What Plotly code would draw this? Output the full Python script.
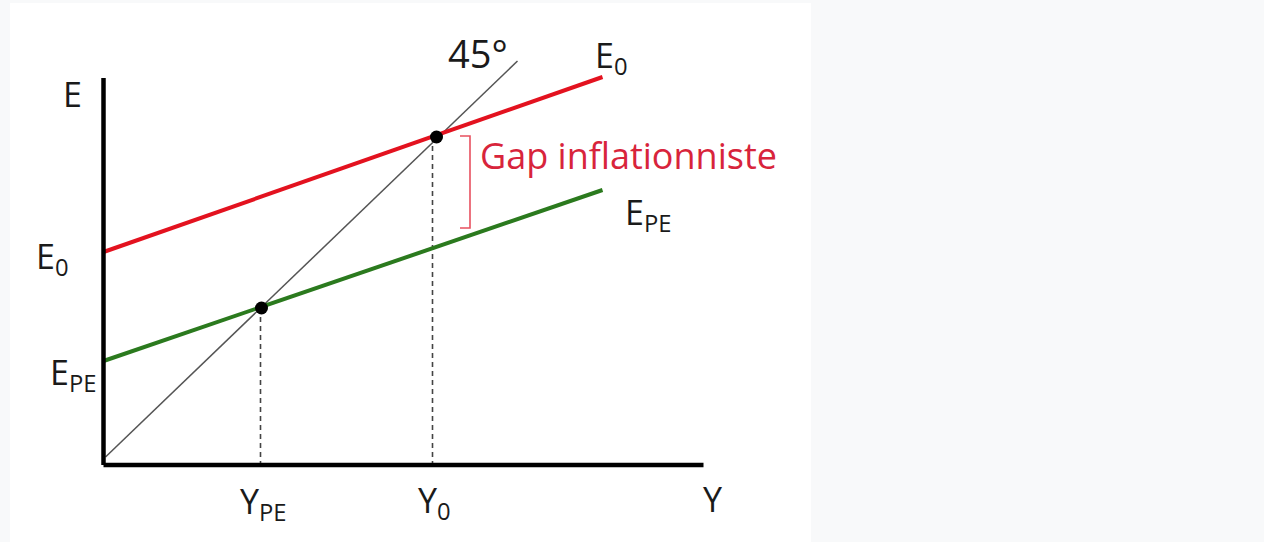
import plotly.graph_objects as go

# ---- data (units: abstract output/expenditure units) ----
axis_y_x = [0, 0]
axis_y_y = [0, 387]
axis_x_x = [0, 600]
axis_x_y = [0, 0]

line45_x = [2, 414]
line45_y = [8, 404]

e0_x = [0, 499]
e0_y = [213, 388]

epe_x = [0, 499]
epe_y = [104, 275]

eq_x = [158, 333]
eq_y = [157, 328]

dash_pe_x = [157, 157]
dash_pe_y = [157, 0]
dash_0_x = [329, 329]
dash_0_y = [328, 0]

gap_x = [356.5, 366.5, 366.5, 356.5]
gap_y = [329, 329, 237, 237]

FONT = "Open Sans"
TXT = 34
BLACK = "#1a1a1a"
RED = "#e3121f"
GREEN = "#2b7a1e"
GAPRED = "#d8243b"

fig = go.Figure()

def line(x, y, color, width, dash="solid"):
    fig.add_trace(go.Scatter(x=x, y=y, mode="lines",
                             line=dict(color=color, width=width, dash=dash),
                             hoverinfo="skip", showlegend=False))

line(line45_x, line45_y, "#555555", 1.5)
line(dash_pe_x, dash_pe_y, "#444444", 1.6, "5px,4px")
line(dash_0_x, dash_0_y, "#444444", 1.6, "5px,4px")
line(e0_x, e0_y, RED, 4)
line(epe_x, epe_y, GREEN, 4)
fig.add_trace(go.Scatter(x=axis_y_x + [None] + axis_x_x,
                         y=axis_y_y + [None] + axis_x_y, mode="lines",
                         line=dict(color="black", width=4.5),
                         hoverinfo="skip", showlegend=False))
line(gap_x, gap_y, "#e8505f", 1.6)
fig.add_trace(go.Scatter(x=eq_x, y=eq_y, mode="markers",
                         marker=dict(color="black", size=13),
                         hoverinfo="skip", showlegend=False))

def label(text, x, y, xanchor="center", yanchor="middle", size=TXT, color=BLACK):
    fig.add_annotation(x=x, y=y, text=text, showarrow=False,
                       xanchor=xanchor, yanchor=yanchor,
                       font=dict(family=FONT, size=size, color=color))

label("E", -31.5, 371)
label("E<sub>0</sub>", -32.5, 207, xanchor="right")
label("E<sub>PE</sub>", -5.5, 91, xanchor="right")
label("Y<sub>PE</sub>", 159.5, -38)
label("Y<sub>0</sub>", 330.5, -37)
label("Y", 609.5, -34)
label("45°", 374.5, 412, size=38)
label("E<sub>0</sub>", 489.5, 408, xanchor="left")
label("E<sub>PE</sub>", 519.5, 251, xanchor="left")
label("Gap inflationniste", 374.5, 310, xanchor="left", size=36, color=GAPRED)

fig.add_shape(type="rect", xref="x", yref="y",
              x0=-93.5, x1=707.5, y0=-80, y1=462,
              fillcolor="white", line=dict(width=0), layer="below")

fig.update_layout(
    width=1264, height=542,
    margin=dict(l=0, r=0, t=0, b=0),
    paper_bgcolor="#f8f9fa", plot_bgcolor="#f8f9fa",
    xaxis=dict(range=[-103.5, 1160.5], visible=False, fixedrange=True),
    yaxis=dict(range=[-77, 465], visible=False, fixedrange=True),
)

fig.write_html("out.html", config={"displayModeBar": False},
               post_script="document.body.style.margin='0';document.body.style.overflow='hidden';")
